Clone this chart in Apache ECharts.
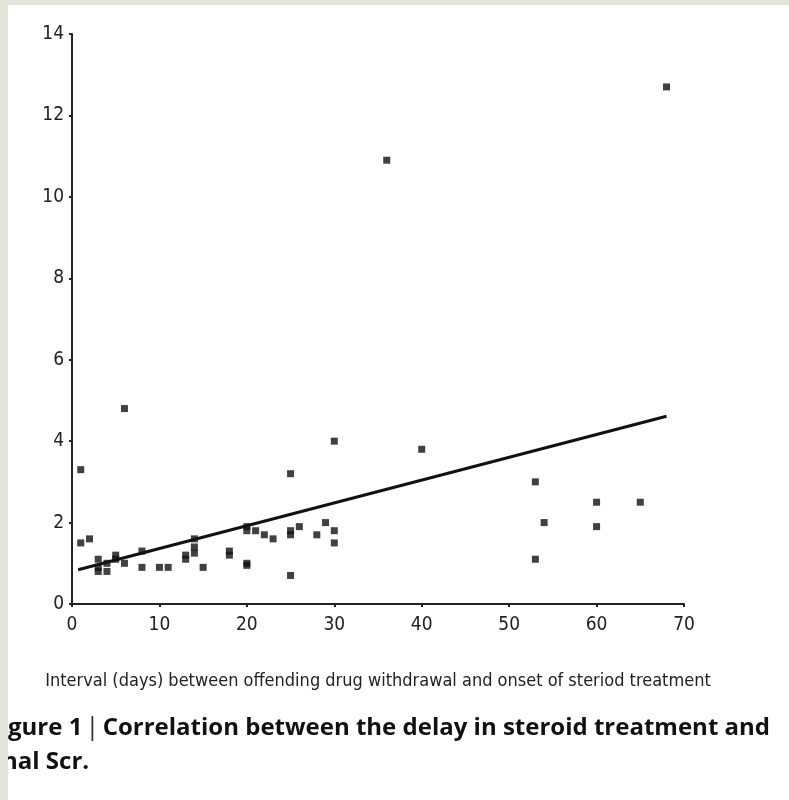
<html>
<head>
<meta charset="utf-8"/>
<title>Delay in steroid treatment vs final Scr</title>
<script src="https://cdn.jsdelivr.net/npm/echarts@6/dist/echarts.min.js"></script>
<style>
  body { margin: 0; padding: 0; background: #fff; }
  #chart { width: 789px; height: 800px; }
</style>
</head>
<body>
<div id="chart"></div>
<script type="text/javascript">
// interval (days) and final Scr
const days = [1, 1, 2, 3, 3, 3, 4, 4, 5, 5, 6, 6, 8, 8, 10, 11, 13, 13, 14, 14, 14, 15,
  18, 18, 20, 20, 20, 20, 21, 22, 23, 25, 25, 25, 25, 26, 28, 29, 30, 30, 30, 36,
  40, 53, 53, 54, 60, 60, 65, 68];
const scr = [3.3, 1.5, 1.6, 1.1, 0.9, 0.8, 1.0, 0.8, 1.2, 1.1, 4.8, 1.0, 1.3, 0.9, 0.9, 0.9, 1.2, 1.1, 1.6, 1.4, 1.25, 0.9,
  1.3, 1.2, 1.9, 1.8, 1.0, 0.95, 1.8, 1.7, 1.6, 3.2, 1.8, 1.7, 0.7, 1.9, 1.7, 2.0, 4.0, 1.8, 1.5, 10.9,
  3.8, 3.0, 1.1, 2.0, 2.5, 1.9, 2.5, 12.7];
// fitted trend line end points
const trendX = [0.7, 68];
const trendY = [0.84, 4.61];
const xTicks = [0, 10, 20, 30, 40, 50, 60, 70];
const yTicks = [0, 2, 4, 6, 8, 10, 12, 14];

const narrow = "'DejaVu Sans Condensed', 'Liberation Sans', sans-serif";
const points = days.map((d, i) => [d, scr[i]]);
const trend = trendX.map((x, i) => [x, trendY[i]]);

let chart = echarts.init(document.getElementById('chart'));
chart.setOption({
  animation: false,
  backgroundColor: '#fff',
  grid: { left: 72, right: 105, top: 34, bottom: 196 },
  xAxis: {
    type: 'value',
    min: xTicks[0],
    max: xTicks[xTicks.length - 1],
    interval: 10,
    name: 'Interval (days) between offending drug withdrawal and onset of steriod treatment',
    nameLocation: 'middle',
    nameGap: 68,
    nameTextStyle: { fontFamily: narrow, fontSize: 18, color: '#222' },
    axisLine: { lineStyle: { color: '#222', width: 2 } },
    axisTick: { inside: false, length: 3, lineStyle: { color: '#222', width: 2 } },
    axisLabel: { fontFamily: narrow, fontSize: 19, color: '#222', margin: 12 },
    splitLine: { show: false }
  },
  yAxis: {
    type: 'value',
    min: yTicks[0],
    max: yTicks[yTicks.length - 1],
    interval: 2,
    axisLine: { show: true, lineStyle: { color: '#222', width: 2 } },
    axisTick: { show: true, length: 3, lineStyle: { color: '#222', width: 2 } },
    axisLabel: { fontFamily: narrow, fontSize: 19, color: '#222', margin: 8 },
    splitLine: { show: false }
  },
  series: [
    {
      type: 'line',
      data: trend,
      showSymbol: false,
      lineStyle: { color: '#111', width: 3 },
      z: 2
    },
    {
      type: 'scatter',
      data: points,
      symbol: 'rect',
      symbolSize: 7,
      itemStyle: { color: '#111' },
      z: 3
    }
  ],
  graphic: [
    {
      type: 'text',
      left: 8,
      top: 715,
      style: {
        text: '{b|gure 1}{s||}{b|Correlation between the delay in steroid treatment and}',
        rich: {
          b: { fontFamily: "'Open Sans', sans-serif", fontWeight: 'bold', fontSize: 24, fill: '#111' },
          s: { fontFamily: "'Open Sans', sans-serif", fontWeight: 'normal', fontSize: 26, fill: '#333', padding: [0, 3, 0, 3] }
        }
      }
    },
    {
      type: 'text',
      left: 2,
      top: 750,
      style: {
        text: 'nal Scr.',
        fontFamily: "'Open Sans', sans-serif",
        fontWeight: 'bold',
        fontSize: 24,
        fill: '#111'
      }
    },
    {
      type: 'rect',
      shape: { x: 0, y: 0, width: 789, height: 5 },
      style: { fill: '#e4e4da' },
      z: 100
    },
    {
      type: 'rect',
      shape: { x: 0, y: 0, width: 8, height: 800 },
      style: { fill: '#e4e4da' },
      z: 100
    }
  ]
});
</script>
</body>
</html>
